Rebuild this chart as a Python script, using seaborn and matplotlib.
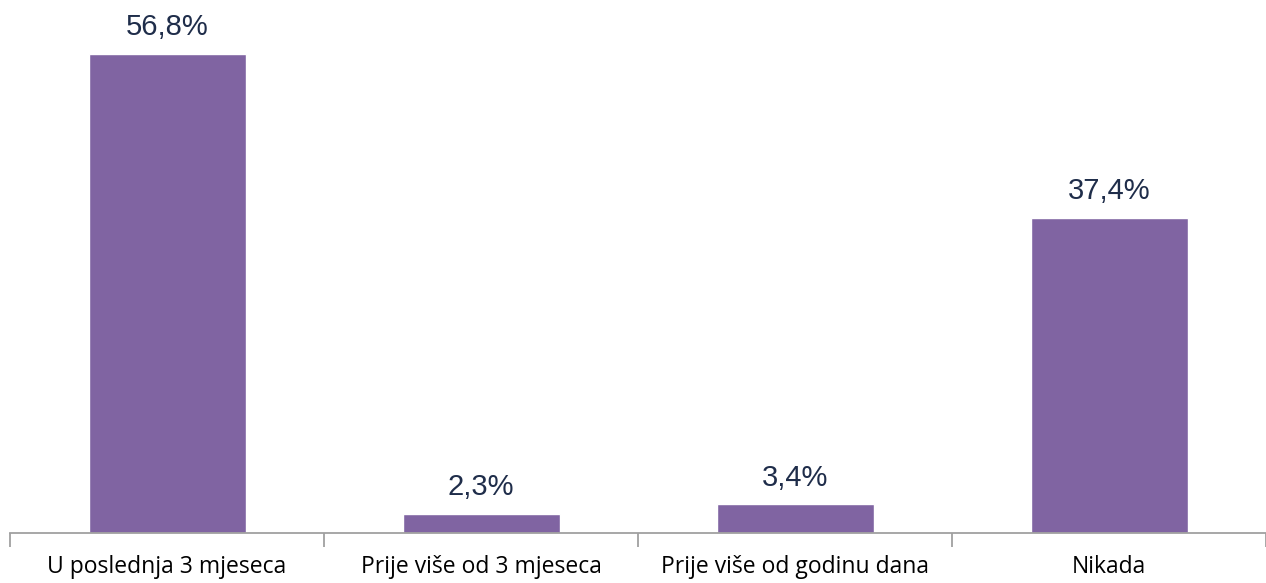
import matplotlib
matplotlib.use("Agg")
import matplotlib.pyplot as plt
import seaborn as sns
from matplotlib.ticker import FixedLocator

categories = ["U poslednja 3 mjeseca", "Prije više od 3 mjeseca",
              "Prije više od godinu dana", "Nikada"]
values = [56.8, 2.3, 3.4, 37.4]
value_labels = ["56,8%", "2,3%", "3,4%", "37,4%"]

sns.set_style("white")

fig = plt.figure(figsize=(12.66, 5.83), dpi=100)
ax = fig.add_axes([10 / 1266, 50 / 583, 1 - 10 / 1266, 1 - 50 / 583])

sns.barplot(x=categories, y=values, color="#8064A2", saturation=1,
            width=0.5, ax=ax)

ax.set_xlim(-0.5, 3.5)
ax.set_ylim(0, 63.2)

for c in ax.containers:
    ax.bar_label(c, labels=value_labels, padding=9, fontsize=21,
                 color="#1F2D4A", family="Liberation Sans")

for s in ["top", "right", "left"]:
    ax.spines[s].set_visible(False)
ax.spines["bottom"].set_color("#A0A0A0")
ax.spines["bottom"].set_linewidth(1.3)

ax.set_yticks([])
ax.tick_params(axis="x", which="major", length=0, pad=16,
               labelsize=16.5, labelcolor="black")
for t in ax.get_xticklabels():
    t.set_family("Open Sans")
ax.xaxis.set_minor_locator(FixedLocator([-0.5, 0.5, 1.5, 2.5, 3.5]))
ax.tick_params(axis="x", which="minor", length=10, width=1.3,
               color="#A0A0A0", bottom=True)

fig.savefig("out.png", dpi=100)
